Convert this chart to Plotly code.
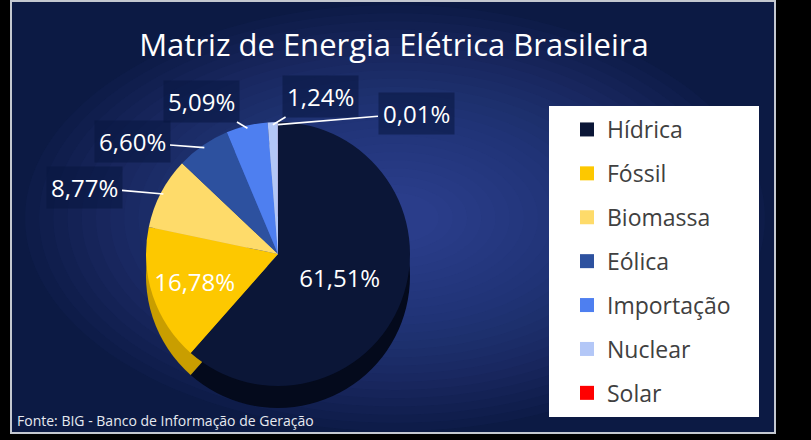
import math
import plotly.graph_objects as go

# ---------------- data ----------------
categories = ["Hídrica", "Fóssil", "Biomassa", "Eólica", "Importação", "Nuclear", "Solar"]
values = [61.51, 16.78, 8.77, 6.60, 5.09, 1.24, 0.01]
colors = ["#0b1637", "#fdc800", "#fedb6a", "#2d519f", "#4e7ff0", "#b3c7f7", "#ff0000"]
side_colors = ["#040a1c", "#c99e00", "#d3b04e", "#1d3872", "#375cb8", "#8294c0", "#a00000"]
inside_slices = ["Hídrica", "Fóssil"]
title_text = "Matriz de Energia Elétrica Brasileira"
source_text = "Fonte: BIG - Banco de Informação de Geração"

# ---------------- layout helpers ----------------
W, H = 811, 440


def px(x):
    return x / W


def py(y):
    return 1 - y / H


cx, cy, r, depth = 278, 254, 132, 22
FONT = "Open Sans"

# where the outside labels sit (pixel centres), for the small slices
outside_label_pos = {
    "Biomassa": (84, 187),
    "Eólica": (132, 142),
    "Importação": (202, 101),
    "Nuclear": (320, 96),
    "Solar": (416, 113),
}

fig = go.Figure()

# side ("3D" depth) of the pie
fig.add_trace(go.Pie(
    labels=categories, values=values, sort=False, direction="clockwise", rotation=0,
    marker=dict(colors=side_colors, line=dict(width=0)),
    textinfo="none", hoverinfo="skip", showlegend=False,
    domain=dict(x=[px(cx - r), px(cx + r)], y=[py(cy + depth + r), py(cy + depth - r)]),
))

# top face of the pie
fig.add_trace(go.Pie(
    labels=categories, values=values, sort=False, direction="clockwise", rotation=0,
    marker=dict(colors=colors, line=dict(width=0)),
    texttemplate="%{value:.2f}%",
    textposition=["inside" if c in inside_slices else "none" for c in categories],
    insidetextorientation="horizontal",
    textfont=dict(family=FONT, size=24, color="white"),
    showlegend=False, hoverinfo="label+percent",
    domain=dict(x=[px(cx - r), px(cx + r)], y=[py(cy + r), py(cy - r)]),
))

# legend entries
for name, c in zip(categories, colors):
    fig.add_trace(go.Scatter(
        x=[None], y=[None], mode="markers", name=name, legendgroup=name,
        marker=dict(symbol="square", size=14, color=c),
    ))

# outside labels with leader lines, pointing at each slice's mid-angle
total = sum(values)
annotations = []
cum = 0.0
for name, v in zip(categories, values):
    theta = 2 * math.pi * (cum + v / 2) / total
    cum += v
    if name not in outside_label_pos:
        continue
    hx = cx + 0.98 * r * math.sin(theta)
    hy = cy - 0.98 * r * math.cos(theta)
    lx, ly = outside_label_pos[name]
    annotations.append(dict(
        text=(f"{v:.2f}".replace(".", ",") + "%"),
        xref="paper", yref="paper", x=px(hx), y=py(hy),
        ax=lx - hx, ay=ly - hy, axref="pixel", ayref="pixel",
        showarrow=True, arrowhead=0, arrowwidth=1.6, arrowcolor="white",
        bgcolor="rgba(8,22,64,0.55)", borderpad=4,
        font=dict(family=FONT, size=24, color="white"),
    ))

annotations.append(dict(text=source_text, xref="paper", yref="paper", x=px(15), y=py(420),
                        xanchor="left", yanchor="middle", showarrow=False,
                        font=dict(family=FONT, size=14, color="#e6e9f0")))

# background shapes: panel, radial glow, legend box
shapes = [dict(type="rect", xref="paper", yref="paper", layer="below",
               x0=px(11), x1=px(775), y0=py(433), y1=py(1),
               fillcolor="#0c1a44", line=dict(color="#c4c8d0", width=2))]
n_glow = 24
for i in range(n_glow):
    f = i / n_glow
    hxr = (380 - 10) * (1 - f * 0.92)
    hyr = (215 - 2) * (1 - f * 0.92)
    shapes.append(dict(type="circle", xref="paper", yref="paper", layer="below",
                       x0=px(395 - hxr), x1=px(395 + hxr), y0=py(218 + hyr), y1=py(218 - hyr),
                       fillcolor="#3a63bb", opacity=0.045, line=dict(width=0)))
shapes.append(dict(type="rect", xref="paper", yref="paper", layer="below",
                   x0=px(549), x1=px(759), y0=py(417), y1=py(106),
                   fillcolor="white", line=dict(width=0)))

fig.update_layout(
    width=W, height=H,
    margin=dict(l=0, r=0, t=0, b=0),
    paper_bgcolor="black", plot_bgcolor="rgba(0,0,0,0)",
    separators=",.",
    title=dict(text=title_text, x=px(394), y=py(45), xanchor="center", yanchor="middle",
               font=dict(family=FONT, size=31, color="white")),
    xaxis=dict(visible=False), yaxis=dict(visible=False),
    legend=dict(x=px(567), y=py(108), xanchor="left", yanchor="top",
                bgcolor="rgba(0,0,0,0)", tracegroupgap=11,
                font=dict(family=FONT, size=23, color="#404040")),
    shapes=shapes,
    annotations=annotations,
)

fig.write_html("out.html")
